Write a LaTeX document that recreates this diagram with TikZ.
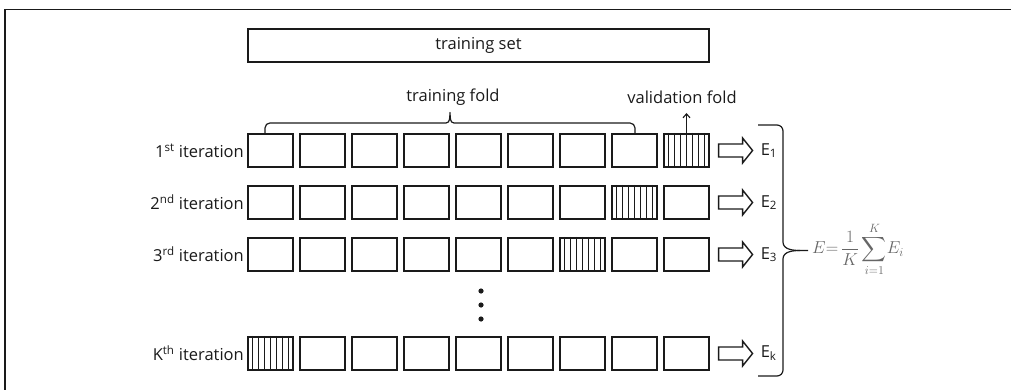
\documentclass[tikz,border=0pt]{standalone}
\usepackage{amsmath}
\usepackage{fontspec}
\setmainfont{Open Sans}
\usetikzlibrary{calc,arrows.meta}
\definecolor{ink}{HTML}{1A1A1A}
\definecolor{formula}{HTML}{666666}
\begin{document}
\begin{tikzpicture}[x=1pt,y=-1pt,
  fold/.style={draw=ink,line width=1.6pt,minimum width=45.5pt,minimum height=33.5pt,inner sep=0pt},
  lbl/.style={font=\fontsize{16.5}{18}\selectfont,text=ink,inner sep=0pt},
  hatchline/.style={draw=ink,line width=0.8pt},
  blockarrow/.style={draw=ink,line width=1.4pt,line join=miter},
  brc/.style={draw=ink,line width=1.2pt}]
\useasboundingbox (0,0) rectangle (1011,390);
% frame
\draw[ink,line width=1.2pt] (1011,9.5) -- (5,9.5) -- (5,390);
% training set
\node[draw=ink,line width=1.6pt,minimum width=461pt,minimum height=33.5pt,inner sep=0pt,font=\fontsize{16.5}{18}\selectfont,text=ink] (ts) at (478.5,45.5) {training set};
% rows
\foreach \r/\y/\lab in {1/150.5/{1\textsuperscript{st} iteration},2/202.5/{2\textsuperscript{nd} iteration},3/254.5/{3\textsuperscript{rd} iteration},4/353.5/{K\textsuperscript{th} iteration}}{
  \foreach \c in {1,...,9}{
    \node[fold] (b\r-\c) at ({270.5+52*(\c-1)},\y) {};
  }
  \node[lbl,anchor=east] (l\r) at (244,\y) {\lab};
}
% hatching
\foreach \n in {b1-9,b2-8,b3-7,b4-1}{
  \foreach \k in {1,...,7}{
    \draw[hatchline] ($(\n.north west)!\k/8!(\n.north east)$) -- ($(\n.south west)!\k/8!(\n.south east)$);
  }
}
% block arrows and E labels
\foreach \r/\e in {1/{E\textsubscript{1}},2/{E\textsubscript{2}},3/{E\textsubscript{3}},4/{E\textsubscript{k}}}{
  \coordinate (a\r) at ($(b\r-9.east)+(8.5,0)$);
  \draw[blockarrow] ($(a\r)+(0,-6.5)$) -- ++(24,0) -- ++(0,-6) -- ++(10,12.5) -- ++(-10,12.5) -- ++(0,-6) -- ++(-24,0) -- cycle;
  \node[lbl,anchor=west] (e\r) at ($(a\r)+(42,0)$) {\e};
}
% dots
\foreach \yy [count=\i] in {291,305,319}{
  \fill[ink] (481,\yy) circle (2.6) coordinate (d\i);
}
% training fold brace
\coordinate (tfl) at (265,0 |- b1-1.north);
\coordinate (tfr) at (635,0 |- b1-8.north);
\draw[brc,line join=round] (tfl) -- ++(0,-5) to[out=90,in=180] ++(5,-5) -- (446,123) to[out=0,in=-95] (450,112.5)
   to[out=-85,in=180] (454,123) -- (630,123) to[out=0,in=90] ($(tfr)+(0,-5)$) -- (tfr);
\node[lbl] (tf) at (453,97) {training fold};
% validation fold
\node[lbl] (vf) at (682,97) {validation fold};
\draw[ink,line width=1.1pt,-{Straight Barb[length=4pt,width=7pt]}] (b1-9.north) -- (b1-9.north |- 0,113) coordinate (vft);
% big brace
\coordinate (bt) at (758,125);
\coordinate (bb) at (758,376);
\coordinate (bm) at (800,250.5);
\draw[brc] (bt) -- (777,125) to[out=0,in=90] (783,131) -- (783,242) to[out=-90,in=180] (bm) -- (808,250.5);
\draw[brc] (bm) to[out=180,in=90] (783,259) -- (783,370) to[out=-90,in=0] (777,376) -- (bb);
% formula
\node[anchor=west,text=formula,inner sep=0pt,font=\fontsize{17.5}{20}\selectfont] (f) at (812,249) {$\displaystyle E{=}\,\frac{1}{K}\sum_{i=1}^{K}\!E_i$};
\end{tikzpicture}
\end{document}
